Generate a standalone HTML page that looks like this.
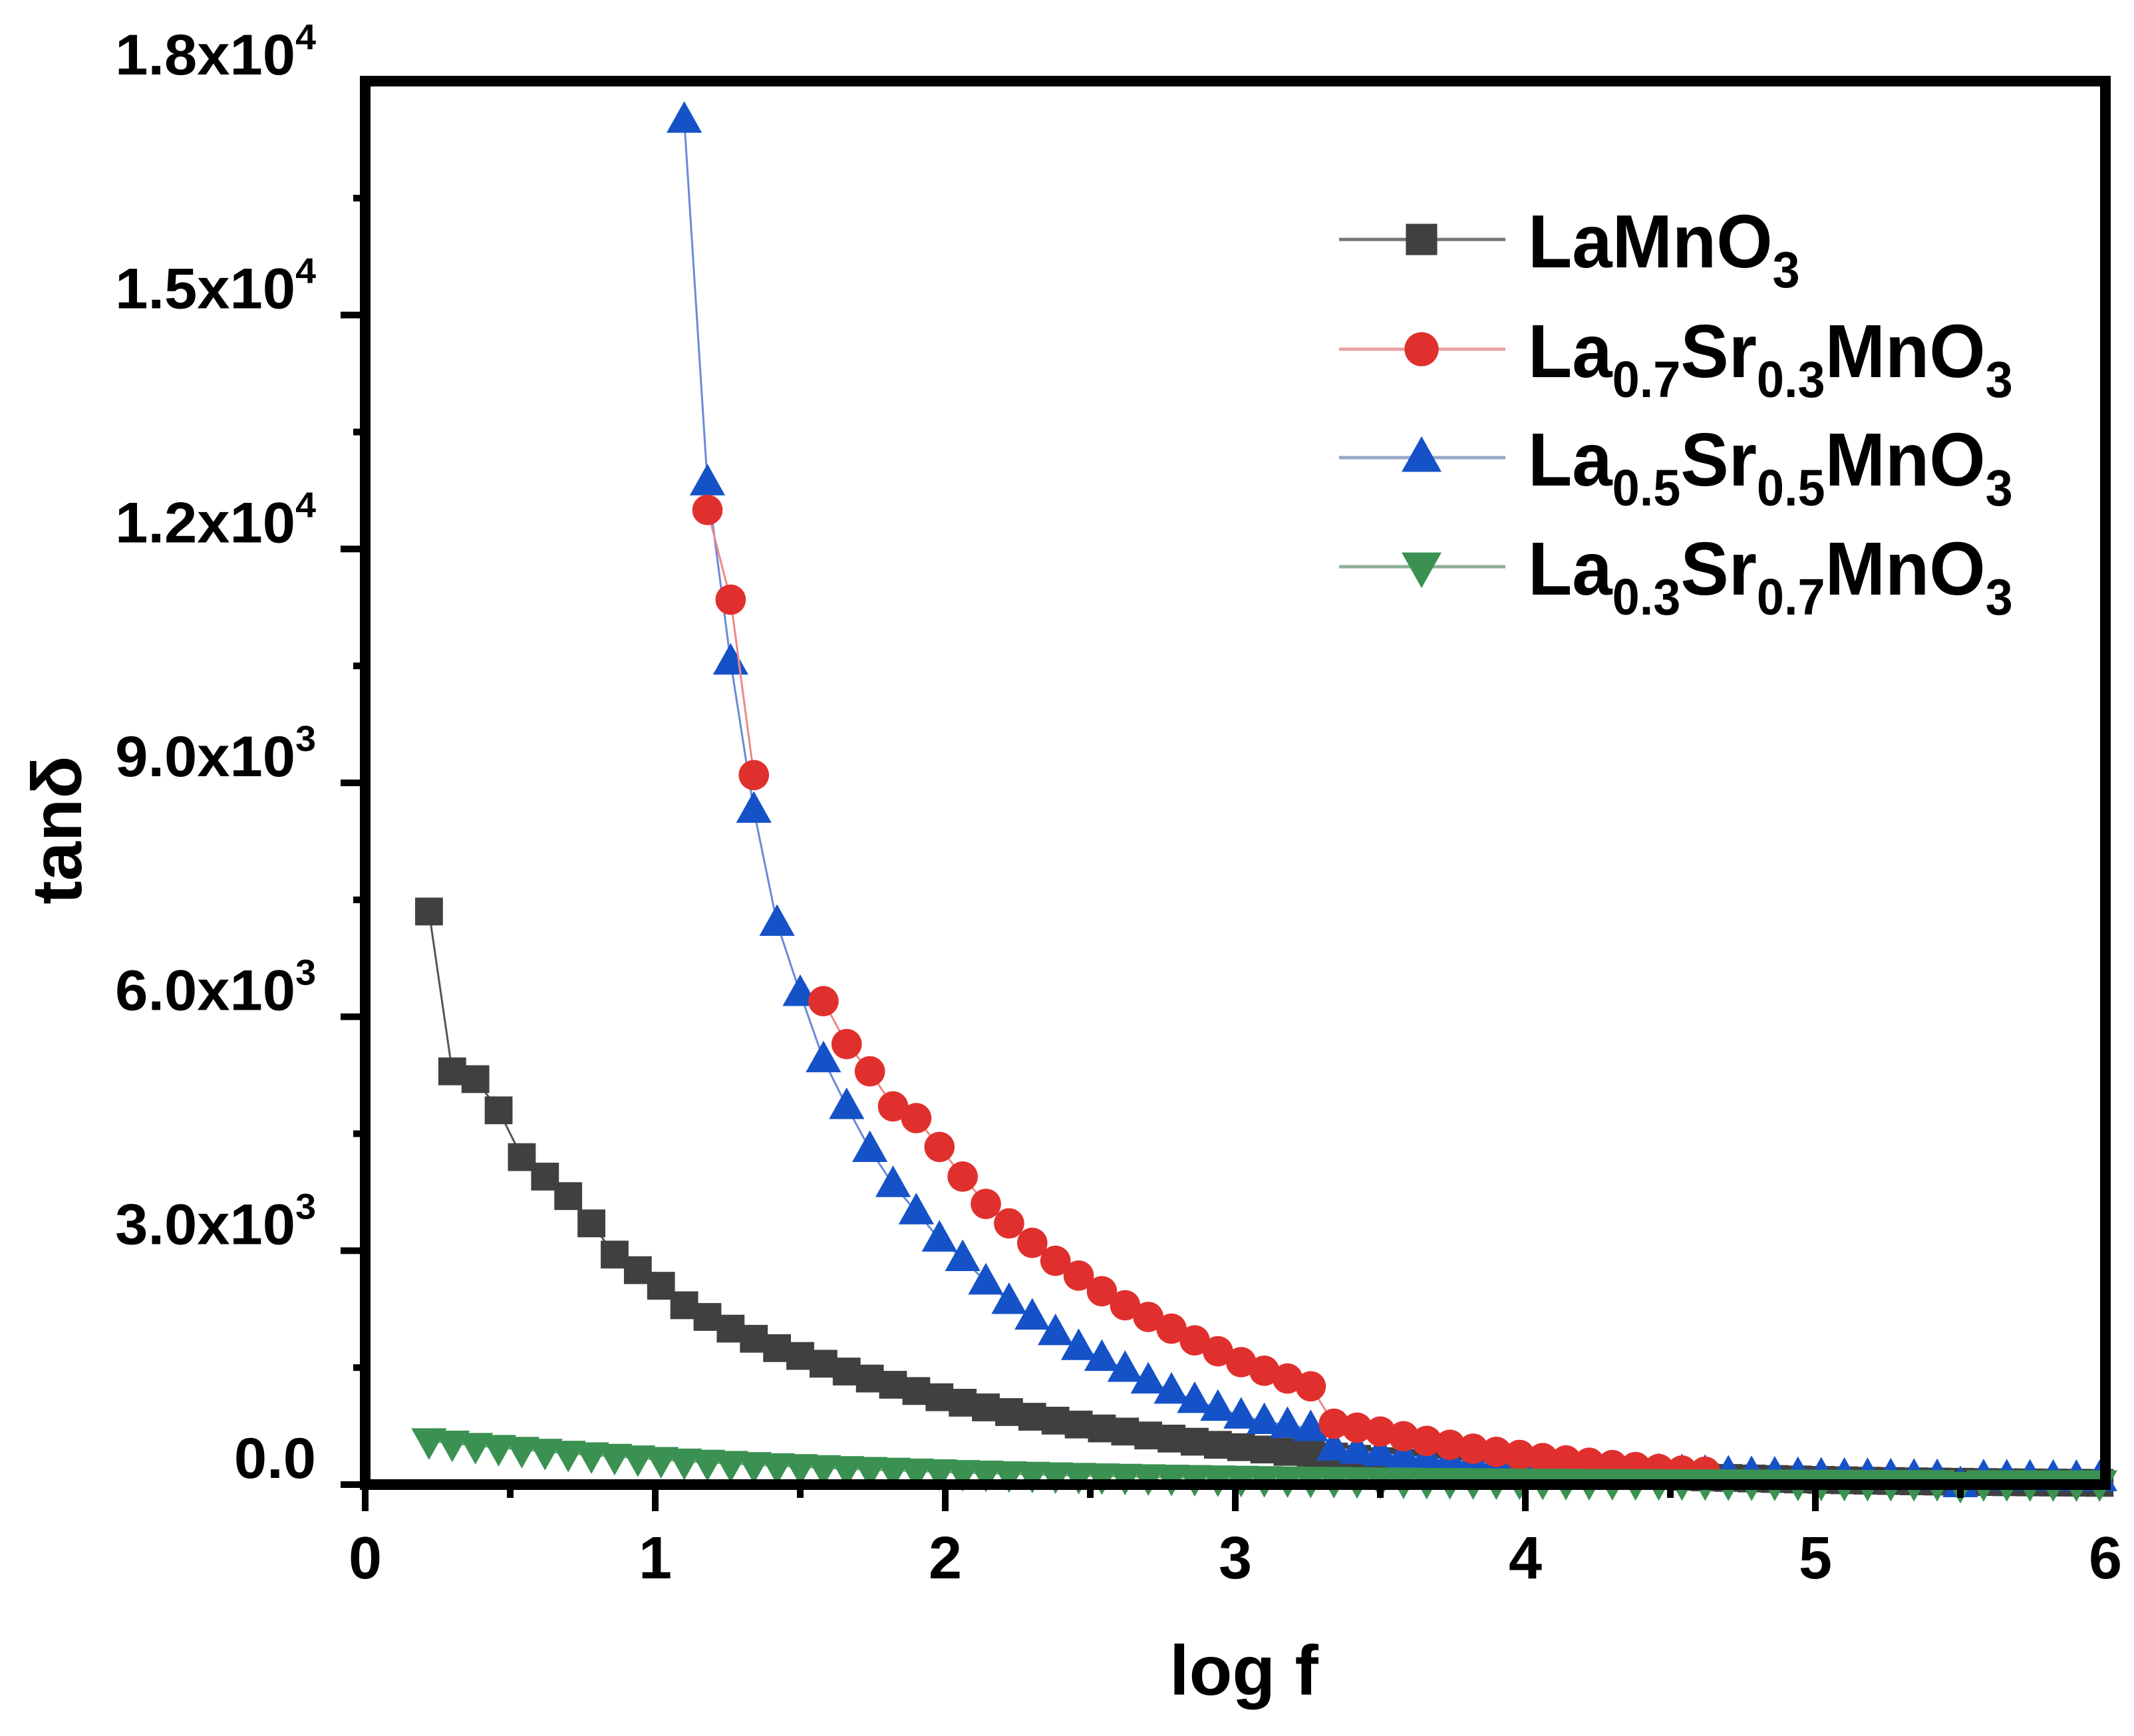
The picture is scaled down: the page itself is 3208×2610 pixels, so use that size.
<!DOCTYPE html>
<html><head><meta charset="utf-8"><style>
html,body{margin:0;padding:0;background:#fff}
svg{display:block}
text{font-family:"Liberation Sans",sans-serif;font-weight:bold;fill:#000}
</style></head><body>
<svg id="chart" width="3208" height="2610" viewBox="0 0 3208 2610" xmlns="http://www.w3.org/2000/svg">
<rect width="3208" height="2610" fill="#fff"/>
<g id="series"></g>
<g id="axes"></g>
<text x="1870" y="2548" font-size="106" text-anchor="middle">log f</text>
<text transform="translate(122,1248) rotate(-90)" font-size="106" text-anchor="middle">tanδ</text>
<g id="legend"></g>
</svg>
<script>
const logf = [0.22,0.30,0.38,0.46,0.54,0.62,0.70,0.78,0.86,0.94,1.02,1.10,1.18,1.26,1.34,1.42,1.50,1.58,1.66,1.74,1.82,1.90,1.98,2.06,2.14,2.22,2.30,2.38,2.46,2.54,2.62,2.70,2.78,2.86,2.94,3.02,3.10,3.18,3.26,3.34,3.42,3.50,3.58,3.66,3.74,3.82,3.90,3.98,4.06,4.14,4.22,4.30,4.38,4.46,4.54,4.62,4.70,4.78,4.86,4.94,5.02,5.10,5.18,5.26,5.34,5.42,5.50,5.58,5.66,5.74,5.82,5.90,5.98];
const lamno3 = [7350,5300,5200,4800,4200,3950,3700,3350,2950,2750,2550,2300,2150,2000,1870,1750,1650,1550,1450,1360,1280,1200,1120,1050,990,930,870,820,770,720,680,630,590,550,510,480,450,420,390,360,330,300,280,260,240,220,200,185,170,155,140,130,120,110,100,92,85,78,72,66,60,55,50,46,42,39,36,33,30,28,26,24,22];
const la07sr03 = [null,null,null,null,null,null,null,null,null,null,null,null,12500,11350,9100,null,null,6200,5650,5300,4850,4700,4330,3950,3600,3350,3100,2870,2680,2480,2300,2150,2000,1850,1710,1570,1460,1360,1260,780,730,680,620,560,510,460,420,380,340,310,280,250,225,200,180,165,null,null,null,null,null,null,null,null,null,null,null,null,null,null,null,null,null];
const la05sr05 = [null,null,null,null,null,null,null,null,null,null,null,17500,12850,10550,8650,7200,6300,5450,4850,4300,3850,3500,3150,2900,2600,2350,2150,1950,1760,1620,1480,1330,1200,1080,980,880,810,760,720,470,430,400,370,340,315,290,270,250,230,215,200,185,175,165,155,145,138,130,124,118,112,108,104,100,96,92,0,88,86,84,82,80,78];
const la03sr07 = [560,530,500,475,450,425,400,380,360,340,320,300,285,270,255,240,228,215,203,192,182,172,162,153,145,137,130,123,116,110,104,98,93,88,83,79,75,71,67,64,61,58,55,52,50,48,46,44,42,40,38,37,36,35,34,33,32,31,30,29,28,27,26,25,24,23,0,22,22,21,21,20,20];
const xTicks = [0,1,2,3,4,5,6];
const yTicks = [0,3000,6000,9000,12000,15000,18000];
const yTickLabels = ["0.0","3.0x10|3","6.0x10|3","9.0x10|3","1.2x10|4","1.5x10|4","1.8x10|4"];

const NS = "http://www.w3.org/2000/svg";
const X0 = 549, X1 = 3165, Y0 = 2232, Y1 = 122;
function sx(v){ return X0 + (v - 0) / 6 * (X1 - X0); }
function sy(v){ return Y0 - v / 18000 * (Y0 - Y1); }
function mk(tag, attrs, parent){
  const e = document.createElementNS(NS, tag);
  for (const k in attrs) e.setAttribute(k, attrs[k]);
  parent.appendChild(e);
  return e;
}
function marker(shape, cx, cy, color, parent, k){
  let e;
  if (shape === "square") e = mk("rect", {x: cx-22*k, y: cy-22*k, width: 44*k, height: 44*k, fill: color}, parent);
  else if (shape === "circle") e = mk("circle", {cx: cx, cy: cy, r: 24*k, fill: color}, parent);
  else if (shape === "up") e = mk("polygon", {points: `${cx},${cy-30*k} ${cx+28*k},${cy+20*k} ${cx-28*k},${cy+20*k}`, fill: color}, parent);
  else e = mk("polygon", {points: `${cx},${cy+30*k} ${cx+28*k},${cy-20*k} ${cx-28*k},${cy-20*k}`, fill: color}, parent);
  return e;
}
const seriesG = document.getElementById("series");
const series = [
  {name:"lamno3", vals: lamno3, color:"#404040", line:"#555", shape:"square"},
  {name:"la05sr05", vals: la05sr05, color:"#1552c8", line:"#6a8ad8", shape:"up"},
  {name:"la07sr03", vals: la07sr03, color:"#e0302e", line:"#e88", shape:"circle"},
  {name:"la03sr07", vals: la03sr07, color:"#3a9152", line:"#6aaa7a", shape:"down"}
];
series.forEach(s => {
  const g = mk("g", {}, seriesG);
  
  
  let d = "", pen = false;
  s.vals.forEach((v, i) => {
    if (v === null) { pen = false; return; }
    d += (pen ? "L" : "M") + sx(logf[i]).toFixed(1) + "," + sy(v).toFixed(1);
    pen = true;
  });
  const p = mk("path", {d: d, fill: "none", stroke: s.line, "stroke-width": 3}, g);
  
  
  s.vals.forEach((v, i) => {
    if (v === null) return;
    const m = marker(s.shape, sx(logf[i]), sy(v), s.color, g, 0.95);
    
    
  });
});

const axes = document.getElementById("axes");
const frame = mk("rect", {x: X0, y: Y1, width: X1 - X0, height: Y0 - Y1, fill: "none", stroke: "#000", "stroke-width": 16}, axes);


for (let i = 0; i < 12; i++) {
  const v = i * 0.5;
  const major = (i % 2 === 0);
  const t = mk("line", {x1: sx(v), x2: sx(v), y1: Y0, y2: Y0 + (major ? 40 : 20), stroke: "#000", "stroke-width": 10}, axes);
  
  
}
xTicks.forEach(v => {
  const t = mk("text", {x: sx(v), y: 2373, "font-size": 90, "text-anchor": "middle"}, axes);
  t.textContent = String(v);
  
  
});
for (let i = 0; i < 12; i++) {
  const v = i * 1500;
  const major = (i % 2 === 0);
  const t = mk("line", {x1: X0, x2: X0 - (major ? 37 : 18), y1: sy(v), y2: sy(v), stroke: "#000", "stroke-width": 10}, axes);
  
  
}
yTicks.forEach((v, i) => {
  const parts = yTickLabels[i].split("|");
  const g = mk("g", {transform: `translate(475,${sy(v) - 10}) scale(1.03,1)`}, axes);
  const t = mk("text", {x: 0, y: 0, "font-size": 86, "text-anchor": "end"}, g);
  
  
  const a = document.createElementNS(NS, "tspan");
  a.textContent = parts[0];
  t.appendChild(a);
  if (parts[1]) {
    const b = document.createElementNS(NS, "tspan");
    b.setAttribute("font-size", "54");
    b.setAttribute("dy", "-38");
    b.textContent = parts[1];
    t.appendChild(b);
  }
});

const legend = document.getElementById("legend");
const legItems = [
  {shape:"square", color:"#404040", line:"#777", parts:[["LaMnO",0],["3",1]]},
  {shape:"circle", color:"#e0302e", line:"#e9a0a0", parts:[["La",0],["0.7",1],["Sr",0],["0.3",1],["MnO",0],["3",1]]},
  {shape:"up", color:"#1552c8", line:"#9aa8c8", parts:[["La",0],["0.5",1],["Sr",0],["0.5",1],["MnO",0],["3",1]]},
  {shape:"down", color:"#3a9152", line:"#8fb09a", parts:[["La",0],["0.3",1],["Sr",0],["0.7",1],["MnO",0],["3",1]]}
];
const lineYs = [360, 525, 688, 852];
legItems.forEach((it, k) => {
  const g = mk("g", {}, legend);
  
  
  const ly = lineYs[k];
  mk("line", {x1: 2013, x2: 2263, y1: ly, y2: ly, stroke: it.line, "stroke-width": 5}, g);
  marker(it.shape, 2137, ly, it.color, g, 1.07);
  const tg = mk("g", {transform: `translate(2297,${ly + 42}) scale(0.96,1)`}, g);
  const t = mk("text", {x: 0, y: 0, "font-size": 113}, tg);
  
  
  let sub = false;
  it.parts.forEach(p => {
    const ts = document.createElementNS(NS, "tspan");
    ts.textContent = p[0];
    if (p[1] && !sub) { ts.setAttribute("dy", "30"); ts.setAttribute("font-size", "77"); sub = true; }
    else if (p[1]) { ts.setAttribute("font-size", "77"); }
    else if (sub) { ts.setAttribute("dy", "-30"); sub = false; }
    t.appendChild(ts);
  });
});
</script>
</body></html>
